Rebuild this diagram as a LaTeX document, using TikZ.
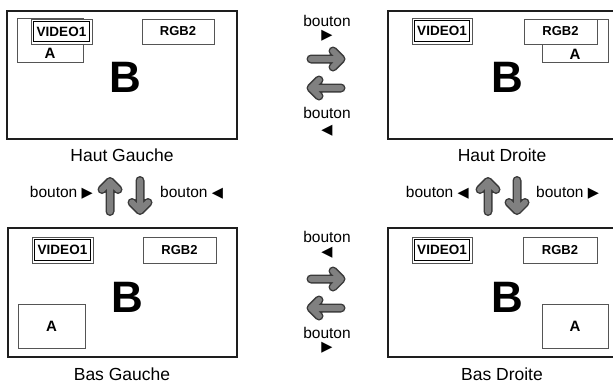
\documentclass[tikz,border=0pt]{standalone}
\usepackage{fontspec}
\setmainfont{Liberation Sans}
\newfontfamily\symf{DejaVu Sans}
\definecolor{arrowgray}{HTML}{808080}
\definecolor{arrowdark}{HTML}{3A3A3A}
\definecolor{boxline}{HTML}{1E1E1E}
\definecolor{subline}{HTML}{555555}
\newcommand{\trir}{{\symf\fontsize{14.5}{15}\selectfont ▶}}
\newcommand{\tril}{{\symf\fontsize{14.5}{15}\selectfont ◀}}
\tikzset{
  screen/.style={draw=boxline, line width=1.4pt},
  subbox/.style={draw=subline, line width=0.7pt, fill=white, inner sep=0pt},
  rgbbox/.style={subbox, font=\fontsize{13}{15}\selectfont\bfseries},
  vidbox/.style={subbox, font=\fontsize{13.5}{15}\selectfont\bfseries,
    path picture={\draw[line width=1.3pt, draw=black]
      ([shift={(2.5pt,-2.5pt)}]path picture bounding box.north west) rectangle
      ([shift={(-2.5pt,2.5pt)}]path picture bounding box.south east);}},
  alab/.style={inner sep=0pt, font=\fontsize{15}{17}\selectfont\bfseries},
  bigb/.style={inner sep=0pt, font=\fontsize{44}{48}\selectfont\bfseries},
  caption/.style={inner sep=0pt, font=\fontsize{17.5}{20}\selectfont},
  btn/.style={inner sep=0pt, font=\fontsize{15.5}{18}\selectfont},
  tri/.style={inner sep=0pt},
  fatarrow/.pic={
    \draw[line width=9pt, draw=arrowdark, line cap=round, line join=round]
      (-15,0) -- (15,0) (7,-8) -- (15,0) -- (7,8);
    \draw[line width=6pt, draw=arrowgray, line cap=round, line join=round]
      (-15,0) -- (15,0) (7,-8) -- (15,0) -- (7,8);
  }
}
\begin{document}
\begin{tikzpicture}[x=1pt, y=-1pt]
\useasboundingbox[fill=white] (0,0) rectangle (613,383);

% ---------- Haut Gauche ----------
\node[screen, minimum width=230pt, minimum height=128pt, inner sep=0pt] (s1) at (122,75) {};
\node[subbox, minimum width=66pt, minimum height=44pt] (a1) at (50,40) {};
\node[alab] (a1t) at (50,53) {A};
\node[vidbox, minimum width=61pt, minimum height=25pt] (v1) at (61.5,31.5) {VIDEO1};
\node[rgbbox, minimum width=72pt, minimum height=25pt] (r1) at (178,31.5) {RGB2};
\node[bigb] (b1) at (125,77) {B};
\node[caption] (c1) at (122,155) {Haut Gauche};

% ---------- Haut Droite ----------
\node[screen, minimum width=228pt, minimum height=128pt, inner sep=0pt] (s2) at (502,75) {};
\node[subbox, minimum width=66pt, minimum height=43pt] (a2) at (575,40.5) {};
\node[alab] (a2t) at (575,54) {A};
\node[vidbox, minimum width=60pt, minimum height=26pt] (v2) at (442,31) {VIDEO1};
\node[rgbbox, minimum width=73pt, minimum height=25pt] (r2) at (560.5,31.5) {RGB2};
\node[bigb] (b2) at (507,77) {B};
\node[caption] (c2) at (502,155) {Haut Droite};

% ---------- Bas Gauche ----------
\node[screen, minimum width=229pt, minimum height=129pt, inner sep=0pt] (s3) at (122.5,292.5) {};
\node[subbox, minimum width=67pt, minimum height=44pt] (a3) at (51.5,326) {};
\node[alab] (a3t) at (51.5,326) {A};
\node[vidbox, minimum width=61pt, minimum height=26pt] (v3) at (62.5,250) {VIDEO1};
\node[rgbbox, minimum width=73pt, minimum height=26pt] (r3) at (179.5,250) {RGB2};
\node[bigb] (b3) at (127,297) {B};
\node[caption] (c3) at (122,374) {Bas Gauche};

% ---------- Bas Droite ----------
\node[screen, minimum width=228pt, minimum height=129pt, inner sep=0pt] (s4) at (502,292.5) {};
\node[subbox, minimum width=66pt, minimum height=44pt] (a4) at (575,326) {};
\node[alab] (a4t) at (575,326) {A};
\node[vidbox, minimum width=60pt, minimum height=26pt] (v4) at (442,250) {VIDEO1};
\node[rgbbox, minimum width=74pt, minimum height=26pt] (r4) at (560,250) {RGB2};
\node[bigb] (b4) at (507,297) {B};
\node[caption] (c4) at (502,374) {Bas Droite};

% ---------- middle top ----------
\node[btn] (t1) at (327,21) {bouton};
\node[tri] (t1s) at (327,36) {\trir};
\pic at (326,59) {fatarrow};
\pic[rotate=180] at (326,88) {fatarrow};
\node[btn] (t2) at (327,113) {bouton};
\node[tri] (t2s) at (327,131) {\tril};

% ---------- middle bottom ----------
\node[btn] (t3) at (327,237) {bouton};
\node[tri] (t3s) at (327,253) {\tril};
\pic at (326,279) {fatarrow};
\pic[rotate=180] at (326,308) {fatarrow};
\node[btn] (t4) at (327,333) {bouton};
\node[tri] (t4s) at (327,348) {\trir};

% ---------- left vertical ----------
\node[btn, anchor=east] (l1) at (93,193) {bouton \trir};
\pic[rotate=90] at (110,196.5) {fatarrow};
\pic[rotate=-90] at (140,195.5) {fatarrow};
\node[btn, anchor=west] (l2) at (160,193) {bouton \tril};

% ---------- right vertical ----------
\node[btn, anchor=east] (r5) at (469,193) {bouton \tril};
\pic[rotate=90] at (488,196.5) {fatarrow};
\pic[rotate=-90] at (517,195.5) {fatarrow};
\node[btn, anchor=west] (r6) at (536,193) {bouton \trir};
\end{tikzpicture}
\end{document}
